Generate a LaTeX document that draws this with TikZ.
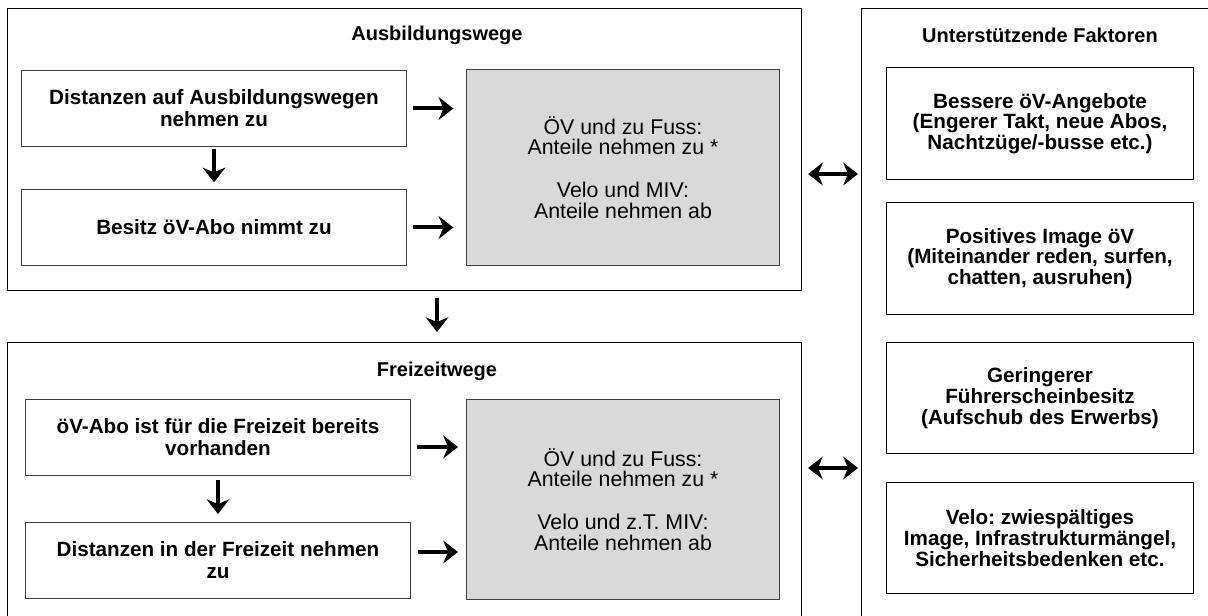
\documentclass[tikz,border=0pt]{standalone}
\usepackage{fontspec}
\setmainfont{Liberation Sans}
\usetikzlibrary{arrows.meta, positioning}
\definecolor{boxgrey}{HTML}{D9D9D9}
\definecolor{edgegrey}{HTML}{404040}
\frenchspacing

\begin{document}
\begin{tikzpicture}[x=0.75pt, y=-0.75pt,
  frame/.style={rectangle, draw=black, line width=0.8pt, anchor=north west, inner sep=0pt},
  cause/.style={rectangle, draw=edgegrey, line width=0.75pt, anchor=north west, inner sep=0pt,
    minimum width=288.75pt, minimum height=57pt, align=center,
    font=\bfseries\fontsize{15.5}{16.5}\selectfont},
  effect/.style={rectangle, draw=edgegrey, fill=boxgrey, line width=0.75pt, anchor=north west,
    inner sep=0pt, minimum width=234.75pt, align=center, font=\fontsize{16}{15.5}\selectfont},
  factor/.style={rectangle, draw=black, line width=0.75pt, anchor=north west, inner sep=0pt,
    minimum width=230.25pt, minimum height=84pt, align=center,
    font=\bfseries\fontsize{15.5}{15.5}\selectfont},
  heading/.style={font=\bfseries\fontsize{15}{18}\selectfont},
  bigarrow/.style={line width=3pt, -{Stealth[length=11pt, width=17pt, inset=3.5pt]}},
  dblarrow/.style={line width=3pt, {Stealth[length=11pt, width=17pt, inset=3.5pt]}-{Stealth[length=11pt, width=17pt, inset=3.5pt]}}]

  \useasboundingbox (0,0) rectangle (1208,616);
  \clip (0,0) rectangle (1208,616);

  % Frames
  \node [frame, minimum width=595.5pt, minimum height=211.5pt] (ausb) at (7,8) {};
  \node [frame, minimum width=595.5pt, minimum height=225pt] (frei) at (7,342) {};
  \node [frame, minimum width=270pt, minimum height=480pt] (fakt) at (861,8) {};

  \node [heading] (ausbtitle) at (437,35) {Ausbildungswege};
  \node [heading] (freititle) at (437,371) {Freizeitwege};
  \node [heading] (fakttitle) at (1040,35) {Unterstützende Faktoren};

  % Ausbildungswege
  \node [cause] (dist) at (21,70) {Distanzen auf Ausbildungswegen\\nehmen zu};
  \node [cause] (besitz) at (21,189) {Besitz öV-Abo nimmt zu};
  \node [effect, minimum height=147pt] (anteil1) at (466,69)
    {ÖV und zu Fuss:\\Anteile nehmen zu *\\[16.5pt]Velo und MIV:\\Anteile nehmen ab};

  % Freizeitwege
  \node [cause] (abo) at (25,399) {öV-Abo ist für die Freizeit bereits\\vorhanden};
  \node [cause] (distfz) at (25,522) {Distanzen in der Freizeit nehmen\\zu};
  \node [effect, minimum height=150pt] (anteil2) at (466,399)
    {ÖV und zu Fuss:\\Anteile nehmen zu *\\[16.5pt]Velo und z.T. MIV:\\Anteile nehmen ab};

  % Faktoren
  \node [factor] (angebot) at (886,67) {Bessere öV-Angebote\\(Engerer Takt, neue Abos,\\Nachtzüge/-busse etc.)};
  \node [factor] (image) at (886,202) {Positives Image öV\\(Miteinander reden, surfen,\\chatten, ausruhen)};
  \node [factor, minimum height=83.25pt] (schein) at (886,342) {Geringerer\\Führerscheinbesitz\\(Aufschub des Erwerbs)};
  \node [factor, minimum height=83.25pt] (velo) at (886,482) {Velo: zwiespältiges\\Image, Infrastrukturmängel,\\Sicherheitsbedenken etc.};

  \coordinate (midx) at (437,0);
  \coordinate (rowa) at (0,447);
  \coordinate (rowb) at (0,552);
  \coordinate (rowc) at (0,174);
  \coordinate (rowd) at (0,468);

  % Edges
  \draw [bigarrow, shorten <=4.5pt, shorten >=9.5pt] (dist.east) -- (dist.east -| anteil1.west);
  \draw [bigarrow, shorten <=4.5pt, shorten >=9.5pt] (besitz.east) -- (besitz.east -| anteil1.west);
  \draw [bigarrow, shorten <=1.5pt, shorten >=5pt] (dist.south) -- (besitz.north);
  \draw [bigarrow, shorten <=5pt, shorten >=7.5pt] (ausb.south -| midx) -- (frei.north -| midx);
  \draw [bigarrow, shorten <=3pt, shorten >=6pt] (abo.south) -- (distfz.north);
  \draw [bigarrow, shorten <=4.5pt, shorten >=6pt] (abo.east |- rowa) -- (anteil2.west |- rowa);
  \draw [bigarrow, shorten <=5pt, shorten >=6pt] (distfz.east |- rowb) -- (anteil2.west |- rowb);

  % Faktoren connections
  \draw [dblarrow, shorten <=4.5pt, shorten >=2.25pt] (ausb.east |- rowc) -- (fakt.west |- rowc);
  \draw [dblarrow, shorten <=4.5pt, shorten >=2.25pt] (frei.east |- rowd) -- (fakt.west |- rowd);
\end{tikzpicture}
\end{document}
